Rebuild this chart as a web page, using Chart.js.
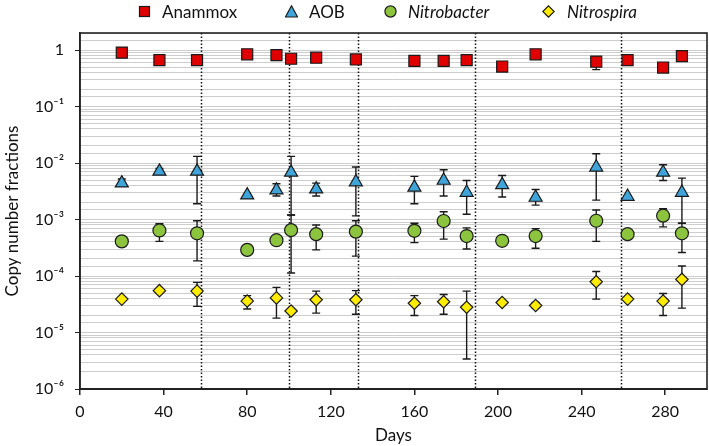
<!DOCTYPE html>
<html>
<head>
<meta charset="utf-8">
<script src="https://cdn.jsdelivr.net/npm/chart.js@4.4.1/dist/chart.umd.min.js"></script>
<style>
  body { margin: 0; background: #fff; }
  #wrap { position: relative; width: 709px; height: 446px; font-family: Lato, 'Open Sans', sans-serif; }
  #legend { position: absolute; top: 0; left: 0; width: 709px; height: 26px; }
  .item { position: absolute; top: 1px; height: 20px; display: flex; align-items: center; font-size: 17px; color: #111; }
  .item.it span { font-style: italic; }
</style>
</head>
<body>
<div id="wrap">
  <canvas id="chart" width="709" height="446"></canvas>
  <div id="legend"></div>
</div>
<script>
const days = [20, 38, 56, 80, 94, 101, 113, 132, 160, 174, 185, 202, 218, 247, 262, 279, 288];

const anammox   = [0.90, 0.66, 0.66, 0.84, 0.81, 0.70, 0.73, 0.68, 0.64, 0.64, 0.66, 0.51, 0.84, 0.62, 0.66, 0.49, 0.78];
const anammoxLo = [0.90, 0.58, 0.58, 0.84, 0.81, 0.60, 0.73, 0.58, 0.64, 0.55, 0.66, 0.51, 0.84, 0.45, 0.66, 0.49, 0.70];
const anammoxHi = [0.90, 0.70, 0.70, 0.84, 0.81, 0.74, 0.73, 0.72, 0.64, 0.70, 0.66, 0.51, 0.84, 0.75, 0.66, 0.49, 0.86];

const aob   = [0.0044, 0.0071, 0.0071, 0.0027, 0.0033, 0.0068, 0.00345, 0.0046, 0.0037, 0.0049, 0.0030, 0.0041, 0.00245, 0.0084, 0.00255, 0.0068, 0.0030];
const aobLo = [0.0040, 0.0065, 0.0019, 0.0027, 0.0026, 0.0012, 0.0026, 0.00116, 0.0019, 0.0026, 0.00124, 0.0025, 0.0018, 0.0022, 0.00255, 0.0049, 0.00086];
const aobHi = [0.0052, 0.0080, 0.0131, 0.0027, 0.0043, 0.0131, 0.0044, 0.0085, 0.0058, 0.0076, 0.0049, 0.0060, 0.0034, 0.0146, 0.00255, 0.0093, 0.0054];

const nitrobacter   = [0.00041, 0.00064, 0.00057, 0.00029, 0.00043, 0.00065, 0.00055, 0.00061, 0.00063, 0.00094, 0.00051, 0.00042, 0.00051, 0.00095, 0.00055, 0.00117, 0.00057];
const nitrobacterLo = [0.00041, 0.00041, 0.000185, 0.00029, 0.00043, 0.000113, 0.00029, 0.000225, 0.00039, 0.00045, 0.00030, 0.00040, 0.00031, 0.00041, 0.00055, 0.00074, 0.00026];
const nitrobacterHi = [0.00041, 0.00084, 0.00095, 0.00029, 0.00043, 0.0012, 0.00080, 0.00095, 0.00086, 0.00137, 0.00071, 0.00044, 0.00069, 0.00147, 0.00055, 0.00155, 0.00086];

const nitrospira   = [3.9e-5, 5.5e-5, 5.4e-5, 3.6e-5, 4.1e-5, 2.4e-5, 3.8e-5, 3.8e-5, 3.3e-5, 3.5e-5, 2.8e-5, 3.4e-5, 3.0e-5, 7.9e-5, 3.9e-5, 3.6e-5, 8.7e-5];
const nitrospiraLo = [3.9e-5, 5.5e-5, 2.9e-5, 2.6e-5, 1.8e-5, 2.4e-5, 2.2e-5, 2.1e-5, 2.0e-5, 2.1e-5, 3.4e-6, 3.4e-5, 2.7e-5, 3.9e-5, 3.6e-5, 2.0e-5, 2.7e-5];
const nitrospiraHi = [3.9e-5, 5.5e-5, 7.7e-5, 4.5e-5, 6.3e-5, 2.4e-5, 5.4e-5, 5.5e-5, 4.5e-5, 4.7e-5, 5.4e-5, 3.4e-5, 3.4e-5, 1.2e-4, 4.2e-5, 4.9e-5, 1.5e-4];

const phaseDays = [58, 100, 133, 189, 259];
const xTicks = [0, 40, 80, 120, 160, 200, 240, 280];
const supers = { '-1': '⁻¹', '-2': '⁻²', '-3': '⁻³', '-4': '⁻⁴', '-5': '⁻⁵', '-6': '⁻⁶' };

const series = [
  { label: 'Anammox', values: anammox, lo: anammoxLo, hi: anammoxHi, style: 'rect', radius: 7.8, color: '#e00000', italic: false },
  { label: 'AOB', values: aob, lo: aobLo, hi: aobHi, style: 'triangle', radius: 7.5, color: '#3fa4da', italic: false },
  { label: 'Nitrobacter', values: nitrobacter, lo: nitrobacterLo, hi: nitrobacterHi, style: 'circle', radius: 6.5, color: '#8cc43e', italic: true },
  { label: 'Nitrospira', values: nitrospira, lo: nitrospiraLo, hi: nitrospiraHi, style: 'rectRot', radius: 6.2, color: '#ffec00', italic: true }
];

function isMajor(v) {
  const l = Math.log10(v);
  return Math.abs(l - Math.round(l)) < 1e-9;
}

// dotted phase lines + error bars, behind the markers
const extras = {
  id: 'extras',
  afterLayout(chart) {
    // stretch the plot to the right edge like the original figure
    const area = chart.chartArea;
    const x = chart.scales.x;
    const right = chart.width - 2;
    area.right = right;
    area.width = right - area.left;
    x.right = right;
    x.width = right - x.left;
    x.configure();
  },
  beforeDatasetsDraw(chart) {
    const { ctx, chartArea, scales } = chart;
    ctx.save();
    ctx.strokeStyle = '#111';
    ctx.lineWidth = 1.5;
    ctx.setLineDash([1.5, 2]);
    phaseDays.forEach(d => {
      const x = Math.round(scales.x.getPixelForValue(d)) + 0.5;
      ctx.beginPath();
      ctx.moveTo(x, chartArea.top);
      ctx.lineTo(x, chartArea.bottom);
      ctx.stroke();
    });
    ctx.setLineDash([]);
    ctx.strokeStyle = '#1a1a1a';
    ctx.lineWidth = 1.4;
    series.forEach(s => {
      days.forEach((d, i) => {
        if (s.lo[i] === s.hi[i]) return;
        const x = scales.x.getPixelForValue(d);
        const y1 = scales.y.getPixelForValue(s.lo[i]);
        const y2 = scales.y.getPixelForValue(s.hi[i]);
        ctx.beginPath();
        ctx.moveTo(x, y1); ctx.lineTo(x, y2);
        ctx.moveTo(x - 4, y1); ctx.lineTo(x + 4, y1);
        ctx.moveTo(x - 4, y2); ctx.lineTo(x + 4, y2);
        ctx.stroke();
      });
    });
    ctx.restore();
  },
  afterDraw(chart) {
    const { ctx, chartArea } = chart;
    ctx.save();
    ctx.strokeStyle = '#222';
    ctx.lineWidth = 1.6;
    ctx.strokeRect(chartArea.left, chartArea.top, chartArea.right - chartArea.left, chartArea.bottom - chartArea.top);
    ctx.restore();
  }
};

new Chart(document.getElementById('chart'), {
  type: 'scatter',
  data: {
    datasets: series.map(s => ({
      label: s.label,
      data: days.map((d, i) => ({ x: d, y: s.values[i] })),
      pointStyle: s.style,
      pointRadius: s.radius,
      pointHoverRadius: s.radius,
      backgroundColor: s.color,
      borderColor: '#1a1a1a',
      borderWidth: 1.2
    }))
  },
  options: {
    responsive: false,
    animation: false,
    layout: { padding: { top: 33, right: 2, left: 0, bottom: 0 } },
    plugins: { legend: { display: false }, tooltip: { enabled: false } },
    scales: {
      x: {
        type: 'linear',
        min: 0,
        max: 300,
        afterBuildTicks(scale) { scale.ticks = xTicks.map(v => ({ value: v })); },
        afterFit(scale) { scale.height = 57; },
        grid: { drawOnChartArea: false, tickLength: 6, tickColor: '#222', lineWidth: 1.5 },
        border: { color: '#222', width: 2 },
        ticks: { color: '#111', font: { family: 'Lato', size: 16 }, padding: 7, maxRotation: 0 },
        title: { display: true, text: 'Days', color: '#111', font: { family: 'Lato', size: 17 }, padding: { top: 0, bottom: 0 } }
      },
      y: {
        type: 'logarithmic',
        min: 1e-6,
        max: 2,
        afterFit(scale) { scale.width = 80; },
        grid: {
          color: '#cdcdcd',
          lineWidth: 1,
          tickLength: 5,
          tickColor: ctx => (ctx.tick && isMajor(ctx.tick.value)) ? '#222' : 'rgba(0,0,0,0)'
        },
        border: { color: '#222', width: 1.6 },
        ticks: {
          autoSkip: false,
          color: '#111',
          font: { family: 'Lato', size: 16 },
          padding: 11,
          callback: v => {
            if (!isMajor(v)) return '';
            const e = Math.round(Math.log10(v));
            return e === 0 ? '1' : '10' + supers[e];
          }
        },
        title: { display: true, text: 'Copy number fractions', color: '#111', font: { family: 'Lato', size: 17 }, padding: { top: 2, bottom: 2 } }
      }
    }
  },
  plugins: [extras]
});

// html legend with italic genus names
const legendPos = [[138, 162], [285, 309], [384, 408], [542, 567]];
const legend = document.getElementById('legend');
series.forEach((s, i) => {
  const mark = document.createElement('div');
  mark.className = 'item';
  mark.style.left = legendPos[i][0] + 'px';
  let shape = '';
  if (s.style === 'rect') shape = `<rect x="1.5" y="1.5" width="10" height="10" fill="${s.color}" stroke="#1a1a1a" stroke-width="1.2"/>`;
  if (s.style === 'triangle') shape = `<polygon points="6.5,0.8 12.6,12 0.4,12" fill="${s.color}" stroke="#1a1a1a" stroke-width="1.2"/>`;
  if (s.style === 'circle') shape = `<circle cx="6.5" cy="6.5" r="5.6" fill="${s.color}" stroke="#1a1a1a" stroke-width="1.2"/>`;
  if (s.style === 'rectRot') shape = `<polygon points="6.5,0.8 12.2,6.5 6.5,12.2 0.8,6.5" fill="${s.color}" stroke="#1a1a1a" stroke-width="1.2"/>`;
  mark.innerHTML = `<svg width="13" height="13">${shape}</svg>`;
  legend.appendChild(mark);

  const text = document.createElement('div');
  text.className = 'item' + (s.italic ? ' it' : '');
  text.style.left = legendPos[i][1] + 'px';
  text.innerHTML = `<span>${s.label}</span>`;
  legend.appendChild(text);
});
</script>
</body>
</html>
